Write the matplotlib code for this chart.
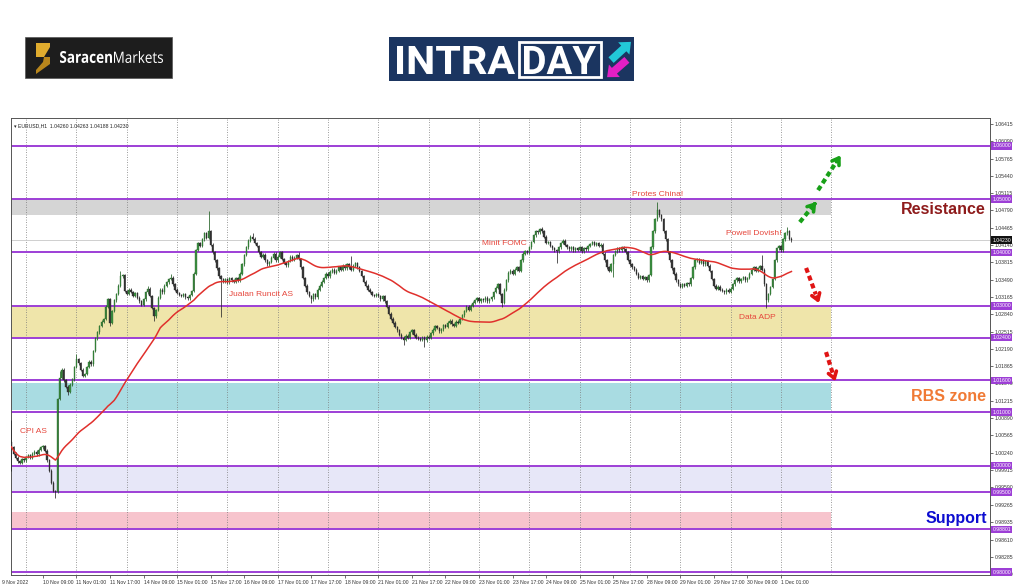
import numpy as np
import pandas as pd
import matplotlib
matplotlib.use("Agg")
import matplotlib.pyplot as plt
from matplotlib.patches import Rectangle, Polygon, PathPatch
from matplotlib.textpath import TextPath
from matplotlib.font_manager import FontProperties
from matplotlib.transforms import Affine2D

# EURUSD H1 closes, one per bar from 9 Nov 18:00 (bar 0) to 1 Dec 06:00
closes = [
    1.0035, 1.0022, 1.0015, 1.0008, 1.0005, 1.0012, 1.0010, 1.0016, 1.0020, 1.0014, 1.0022, 1.0026,
    1.0021, 1.0030, 1.0034, 1.0036, 1.0028, 1.0010, 0.9990, 0.9968, 0.9952, 0.9950, 1.0125, 1.0165,
    1.0180, 1.0160, 1.0148, 1.0138, 1.0152, 1.0162, 1.0185, 1.0200, 1.0192, 1.0180, 1.0168, 1.0172,
    1.0185, 1.0195, 1.0190, 1.0215, 1.0238, 1.0250, 1.0262, 1.0270, 1.0275, 1.0298, 1.0312, 1.0268,
    1.0290, 1.0310, 1.0322, 1.0338, 1.0355, 1.0358, 1.0328, 1.0322, 1.0330, 1.0326, 1.0318, 1.0324,
    1.0315, 1.0308, 1.0302, 1.0312, 1.0325, 1.0332, 1.0318, 1.0296, 1.0280, 1.0292, 1.0315, 1.0330,
    1.0325, 1.0338, 1.0344, 1.0350, 1.0353, 1.0340, 1.0330, 1.0324, 1.0320, 1.0318, 1.0322, 1.0316,
    1.0314, 1.0320, 1.0328, 1.0360, 1.0405, 1.0418, 1.0412, 1.0425, 1.0436, 1.0428, 1.0440, 1.0415,
    1.0400, 1.0385, 1.0370, 1.0355, 1.0350, 1.0346, 1.0350, 1.0344, 1.0352, 1.0348, 1.0345, 1.0352,
    1.0348, 1.0360, 1.0378, 1.0395, 1.0410, 1.0422, 1.0430, 1.0426, 1.0418, 1.0412, 1.0400, 1.0392,
    1.0396, 1.0385, 1.0378, 1.0382, 1.0390, 1.0398, 1.0385, 1.0392, 1.0400, 1.0388, 1.0380, 1.0376,
    1.0384, 1.0392, 1.0386, 1.0390, 1.0395, 1.0388, 1.0372, 1.0352, 1.0338, 1.0325, 1.0318, 1.0312,
    1.0322, 1.0316, 1.0330, 1.0338, 1.0345, 1.0352, 1.0360, 1.0355, 1.0364, 1.0368, 1.0362, 1.0366,
    1.0372, 1.0368, 1.0375, 1.0370, 1.0378, 1.0372, 1.0368, 1.0375, 1.0380, 1.0372, 1.0365, 1.0356,
    1.0345, 1.0338, 1.0330, 1.0326, 1.0320, 1.0318, 1.0322, 1.0318, 1.0312, 1.0318, 1.0308, 1.0298,
    1.0285, 1.0276, 1.0268, 1.0260, 1.0254, 1.0246, 1.0240, 1.0236, 1.0244, 1.0240, 1.0250, 1.0254,
    1.0246, 1.0240, 1.0238, 1.0236, 1.0240, 1.0235, 1.0242, 1.0240, 1.0248, 1.0255, 1.0262, 1.0258,
    1.0252, 1.0256, 1.0263, 1.0260, 1.0268, 1.0272, 1.0265, 1.0262, 1.0270, 1.0268, 1.0275, 1.0282,
    1.0290, 1.0298, 1.0292, 1.0300, 1.0306, 1.0310, 1.0314, 1.0308, 1.0312, 1.0310, 1.0315, 1.0308,
    1.0312, 1.0316, 1.0326, 1.0334, 1.0340, 1.0322, 1.0305, 1.0330, 1.0348, 1.0362, 1.0366, 1.0360,
    1.0368, 1.0372, 1.0365, 1.0385, 1.0398, 1.0402, 1.0400, 1.0410, 1.0420, 1.0432, 1.0440, 1.0438,
    1.0444, 1.0440, 1.0430, 1.0418, 1.0420, 1.0412, 1.0408, 1.0404, 1.0402, 1.0410, 1.0418, 1.0422,
    1.0414, 1.0410, 1.0406, 1.0410, 1.0404, 1.0408, 1.0405, 1.0410, 1.0402, 1.0408, 1.0406, 1.0412,
    1.0416, 1.0420, 1.0414, 1.0418, 1.0412, 1.0415, 1.0398, 1.0385, 1.0372, 1.0365, 1.0378, 1.0395,
    1.0402, 1.0408, 1.0404, 1.0410, 1.0406, 1.0400, 1.0386, 1.0378, 1.0372, 1.0368, 1.0360, 1.0352,
    1.0356, 1.0350, 1.0354, 1.0348, 1.0358, 1.0410, 1.0440, 1.0462, 1.0480, 1.0470, 1.0462, 1.0440,
    1.0425, 1.0400, 1.0385, 1.0370, 1.0360, 1.0348, 1.0340, 1.0336, 1.0340, 1.0338, 1.0342, 1.0340,
    1.0352, 1.0372, 1.0385, 1.0388, 1.0380, 1.0386, 1.0378, 1.0384, 1.0375, 1.0365, 1.0350, 1.0338,
    1.0332, 1.0336, 1.0330, 1.0328, 1.0325, 1.0330, 1.0326, 1.0332, 1.0340, 1.0348, 1.0352, 1.0346,
    1.0350, 1.0354, 1.0348, 1.0352, 1.0360, 1.0368, 1.0372, 1.0365, 1.0370, 1.0374, 1.0368, 1.0340,
    1.0310, 1.0322, 1.0335, 1.0350, 1.0385, 1.0408, 1.0412, 1.0404, 1.0425, 1.0436, 1.0440, 1.0426,
    1.0423,
]
first_open = 1.0045
# long wicks visible on the chart (bar index -> price)
wick_high = {0: 1.0085, 23: 1.0178, 31: 1.0210, 52: 1.0365, 65: 1.0338, 76: 1.0360, 94: 1.0478,
             115: 1.0437, 137: 1.0401, 162: 1.0393, 253: 1.0448, 308: 1.0495, 358: 1.0395, 370: 1.0448}
wick_low = {0: 0.9990, 21: 0.9939, 27: 1.0132, 47: 1.0262, 68: 1.0272, 100: 1.0279, 143: 1.0305,
            187: 1.0226, 197: 1.0223, 234: 1.0298, 260: 1.0380, 287: 1.0354, 360: 1.0296}

levels = [1.06, 1.05, 1.04, 1.03, 1.024, 1.016, 1.01, 1.00, 0.995, 0.988, 0.98]
level_labels = ["1.06000", "1.05000", "1.04000", "1.03000", "1.02400", "1.01600", "1.01000",
                "1.00000", "0.99500", "0.98801", "0.98000"]
zones = [(1.0470, 1.0500, "#d5d5d5"), (1.0240, 1.0300, "#efe5aa"), (1.0104, 1.0155, "#a9dce2"),
         (0.9950, 1.0000, "#e7e7f8"), (0.9883, 0.9912, "#f7c4cd")]

price_ticks = [1.06415, 1.06090, 1.05765, 1.05440, 1.05115, 1.04790, 1.04465, 1.04140, 1.03815,
               1.03490, 1.03165, 1.02840, 1.02515, 1.02190, 1.01865, 1.01540, 1.01215, 1.00890,
               1.00565, 1.00240, 0.99915, 0.99590, 0.99265, 0.98935, 0.98610, 0.98285, 0.97960]

time_ticks = [15, 31, 47, 63, 79, 95, 111, 127, 143, 159, 175, 191, 207, 223, 239, 255, 271,
              287, 303, 319, 335, 351, 367]
time_labels = ["10 Nov 09:00", "11 Nov 01:00", "11 Nov 17:00", "14 Nov 09:00", "15 Nov 01:00",
               "15 Nov 17:00", "16 Nov 09:00", "17 Nov 01:00", "17 Nov 17:00", "18 Nov 09:00",
               "21 Nov 01:00", "21 Nov 17:00", "22 Nov 09:00", "23 Nov 01:00", "23 Nov 17:00",
               "24 Nov 09:00", "25 Nov 01:00", "25 Nov 17:00", "28 Nov 09:00", "29 Nov 01:00",
               "29 Nov 17:00", "30 Nov 09:00", "1 Dec 01:00"]
day_lines = [7, 31, 55, 79, 103, 127, 151, 175, 199, 223, 247, 271, 295, 319, 343, 367, 391]

events = [("CPI AS", 4, 1.0063), ("Jualan Runcit AS", 104, 1.0322), ("Minit FOMC", 224.5, 1.0416),
          ("Protes China!", 296, 1.0508), ("Powell Dovish!", 341, 1.0435), ("Data ADP", 347, 1.0277)]
last_price = 1.0423

SMALL = dict(family=["Liberation Sans", "DejaVu Sans"], fontsize=3.7)

# ---------------------------------------------------------------------------
fig = plt.figure(figsize=(10.24, 5.87), dpi=100)
ax = fig.add_axes([11 / 1024, 12 / 587, 979 / 1024, 457 / 587])

c = np.array(closes)
o = np.r_[first_open, c[:-1]]
x = np.arange(len(c))
pad = 0.00025
hi = np.maximum(o, c) + pad
lo = np.minimum(o, c) - pad
for k, v in wick_high.items():
    hi[k] = v
for k, v in wick_low.items():
    lo[k] = v

zone_end = day_lines[-1]
for z0, z1, col in zones:
    ax.fill_between([-0.2, zone_end], z0, z1, color=col, lw=0, zorder=0)

for d in day_lines:
    ax.axvline(d, color="#7a7a7a", lw=0.6, ls=(0, (1, 2)), zorder=1)

for lv in levels:
    ax.axhline(lv, color="#9d3fd6", lw=1.4, zorder=2)
ax.axhline(last_price, color="#c8c8c8", lw=0.6, zorder=1)

bull = c >= o
ax.vlines(x, lo, hi, colors=np.where(bull, "#1f5f22", "#2a2a2a"), lw=0.55, zorder=3)
ax.bar(x, np.maximum(np.abs(c - o), 0.00005), bottom=np.minimum(o, c), width=0.62,
       color=np.where(bull, "#3e9143", "#3b3b3b"), edgecolor=np.where(bull, "#1f5f22", "#1e1e1e"),
       linewidth=0.25, zorder=4)

ma = pd.Series(c).rolling(50, min_periods=1).mean()
ax.plot(x, ma, color="#e0302c", lw=1.1, zorder=5)

for txt, ex, ey in events:
    ax.text(ex, ey, txt, color="#e6463c", fontsize=6, family="Liberation Sans",
            va="center", ha="left", zorder=6)

# dashed scenario arrows
arrows = [((376, 1.0457), (384.7, 1.0499), "#18a018"), ((384.7, 1.0517), (396.2, 1.0587), "#18a018"),
          ((379, 1.0371), (385.6, 1.0300), "#e01414"), ((388.5, 1.0213), (393.3, 1.0153), "#e01414")]
for (sx, sy), (tx, ty), col in arrows:
    mx, my = sx + (tx - sx) * 0.7, sy + (ty - sy) * 0.7
    ax.plot([sx, mx], [sy, my], color=col, lw=3, ls=(0, (1.2, 0.8)), solid_capstyle="butt", zorder=6)
    ax.annotate("", xy=(tx, ty), xytext=(mx, my),
                arrowprops=dict(arrowstyle="->,head_length=0.45,head_width=0.3", color=col, lw=2.6),
                zorder=6)

ax.text(464.8, 1.0480, "Resistance", color="#8e1b1b", fontsize=11.5, fontweight="bold",
        family="Liberation Sans", ha="right", va="center", zorder=6)
ax.text(464.8, 1.0129, "RBS zone", color="#f07a35", fontsize=11.5, fontweight="bold",
        family="Liberation Sans", ha="right", va="center", zorder=6)
ax.text(465.5, 0.9901, "Support", color="#0c0cd0", fontsize=11.5, fontweight="bold",
        family="Liberation Sans", ha="right", va="center", zorder=6)

ax.text(0.003, 0.988, "\u25be EURUSD,H1  1.04260 1.04263 1.04188 1.04230", transform=ax.transAxes,
        color="#222222", va="top", ha="left", **SMALL)

ax.set_xlim(-0.2, 466.7)
ax.set_ylim(0.979437, 1.065258)
ax.yaxis.tick_right()
ax.set_yticks(price_ticks, [f"{p:.5f}" for p in price_ticks])
ax.set_xticks(time_ticks, time_labels)
for lab in ax.get_xticklabels() + ax.get_yticklabels():
    lab.set_fontfamily("Liberation Sans")
plt.setp(ax.get_xticklabels(), ha="left")
ax.tick_params(axis="both", labelsize=3.7, colors="#333333", length=2, width=0.5, pad=1.5)
for sp in ax.spines.values():
    sp.set_color("#555555")
    sp.set_linewidth(0.7)
fig.text(2 / 1024, 5 / 587, "9 Nov 2022", color="#333333", va="center", ha="left", **SMALL)

ytr = ax.get_yaxis_transform()
for lv, lab in zip(levels, level_labels):
    ax.text(1.0025, lv, lab, transform=ytr, color="white", va="center", ha="left",
            bbox=dict(boxstyle="square,pad=0.25", fc="#9d3fd6", ec="none"), clip_on=False,
            zorder=7, **SMALL)
ax.text(1.0025, last_price, "1.04230", transform=ytr, color="white", va="center", ha="left",
        bbox=dict(boxstyle="square,pad=0.25", fc="#111111", ec="none"), clip_on=False, zorder=8,
        **SMALL)

# ---- logos (pixel overlay) ----
ov = fig.add_axes([0, 0, 1, 1])
ov.set_xlim(0, 1024)
ov.set_ylim(587, 0)
ov.set_axis_off()


def fit_text(s, x0, x1, y0, y1, color, family, weight="bold"):
    # text drawn as a path, stretched to the box it fills in the logo
    tp = TextPath((0, 0), s, size=10, prop=FontProperties(family=family, weight=weight))
    bb = tp.get_extents()
    tr = Affine2D().translate(-bb.x0, -bb.y0).scale((x1 - x0) / bb.width, -(y1 - y0) / bb.height)
    tr = tr.translate(x0, y1)
    ov.add_patch(PathPatch(tr.transform_path(tp), fc=color, ec="none", lw=0))


ov.add_patch(Rectangle((25, 37), 147, 41, fc="#1d1d1d", ec="#555555", lw=0.5))
ov.add_patch(Polygon([(36, 43), (50, 43), (50, 47), (44, 57), (36, 57), (36, 52)], fc="#e0ac2e"))
ov.add_patch(Polygon([(44, 57), (50, 57), (50, 64), (36, 74), (36, 70), (43, 62)], fc="#b8861c"))
fit_text("Saracen", 60, 112, 51, 63, "white", "Open Sans", "bold")
fit_text("Markets", 114, 163, 51, 63, "white", "Open Sans", "normal")

ov.add_patch(Rectangle((389, 37), 245, 44, fc="#1b3560", ec="none"))
fit_text("INTRA", 397, 515, 46, 74, "white", "Roboto")
ov.add_patch(Rectangle((519, 42), 82, 35, fc="none", ec="white", lw=2))
fit_text("DAY", 524, 596, 46, 74, "white", "Roboto")
ov.annotate("", xy=(633, 40), xytext=(609, 62),
            arrowprops=dict(arrowstyle="simple,head_length=0.7,head_width=1.2,tail_width=0.55",
                            fc="#22c8d8", ec="none"))
ov.annotate("", xy=(605, 79), xytext=(629, 58),
            arrowprops=dict(arrowstyle="simple,head_length=0.7,head_width=1.2,tail_width=0.55",
                            fc="#e21fc4", ec="none"))

fig.savefig("out.png", dpi=100, facecolor="white")
